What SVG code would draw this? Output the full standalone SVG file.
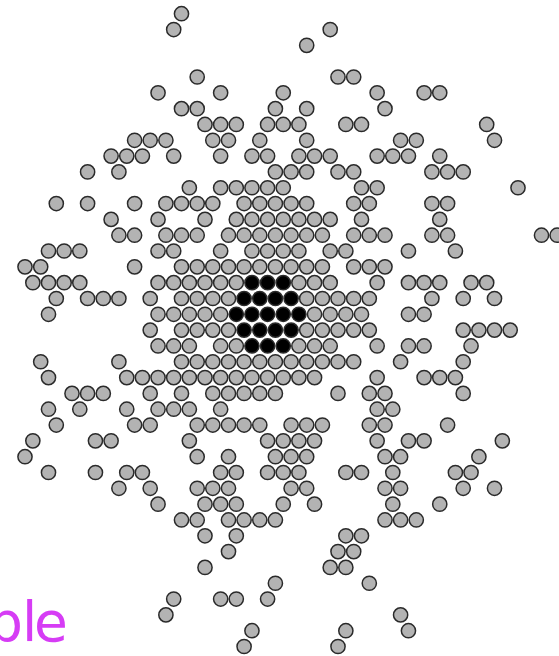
<svg xmlns="http://www.w3.org/2000/svg" width="559" height="656" viewBox="0 0 559 656">
<style>
circle{r:7.1px;fill:#b3b3b3;stroke:#2a2a2a;stroke-width:1.5}
circle.b{fill:#000}
text{font-family:"DejaVu Sans",sans-serif;font-size:55px;fill:#d63cf5}
</style>
<rect width="559" height="656" fill="#fff"/>
<g id="particles">
<g transform="translate(0,13.72)"><circle cx="181.5"/></g>
<g transform="translate(0,29.54)"><circle cx="173.7"/><circle cx="330.2"/></g>
<g transform="translate(0,45.36)"><circle cx="306.7"/></g>
<g transform="translate(0,77)"><circle cx="197.2"/><circle cx="338"/><circle cx="353.7"/></g>
<g transform="translate(0,92.82)"><circle cx="158.05"/><circle cx="220.65"/><circle cx="283.25"/><circle cx="377.15"/><circle cx="424.1"/><circle cx="439.75"/></g>
<g transform="translate(0,108.64)"><circle cx="181.5"/><circle cx="197.2"/><circle cx="275.4"/><circle cx="306.7"/><circle cx="385"/></g>
<g transform="translate(0,124.46)"><circle cx="205"/><circle cx="220.65"/><circle cx="236.3"/><circle cx="267.6"/><circle cx="283.25"/><circle cx="298.9"/><circle cx="345.85"/><circle cx="361.5"/><circle cx="486.7"/></g>
<g transform="translate(0,140.28)"><circle cx="134.6"/><circle cx="150.2"/><circle cx="165.9"/><circle cx="212.8"/><circle cx="228.5"/><circle cx="259.8"/><circle cx="306.7"/><circle cx="400.6"/><circle cx="416.3"/><circle cx="494.5"/></g>
<g transform="translate(0,156.1)"><circle cx="111.1"/><circle cx="126.75"/><circle cx="142.4"/><circle cx="173.7"/><circle cx="220.65"/><circle cx="251.95"/><circle cx="267.6"/><circle cx="298.9"/><circle cx="314.55"/><circle cx="330.2"/><circle cx="377.15"/><circle cx="392.8"/><circle cx="408.45"/><circle cx="439.75"/></g>
<g transform="translate(0,171.92)"><circle cx="87.6"/><circle cx="118.9"/><circle cx="275.4"/><circle cx="291.1"/><circle cx="306.7"/><circle cx="338"/><circle cx="353.7"/><circle cx="431.9"/><circle cx="447.6"/><circle cx="463.2"/></g>
<g transform="translate(0,187.74)"><circle cx="189.35"/><circle cx="220.65"/><circle cx="236.3"/><circle cx="251.95"/><circle cx="267.6"/><circle cx="283.25"/><circle cx="361.5"/><circle cx="377.15"/><circle cx="518"/></g>
<g transform="translate(0,203.56)"><circle cx="56.3"/><circle cx="87.6"/><circle cx="134.6"/><circle cx="165.9"/><circle cx="181.5"/><circle cx="197.2"/><circle cx="212.8"/><circle cx="244.1"/><circle cx="259.8"/><circle cx="275.4"/><circle cx="291.1"/><circle cx="306.7"/><circle cx="353.7"/><circle cx="369.3"/><circle cx="431.9"/><circle cx="447.6"/></g>
<g transform="translate(0,219.38)"><circle cx="111.1"/><circle cx="158.05"/><circle cx="205"/><circle cx="236.3"/><circle cx="251.95"/><circle cx="267.6"/><circle cx="283.25"/><circle cx="298.9"/><circle cx="314.55"/><circle cx="330.2"/><circle cx="361.5"/><circle cx="439.75"/></g>
<g transform="translate(0,235.2)"><circle cx="118.9"/><circle cx="134.6"/><circle cx="165.9"/><circle cx="181.5"/><circle cx="197.2"/><circle cx="228.5"/><circle cx="244.1"/><circle cx="259.8"/><circle cx="275.4"/><circle cx="291.1"/><circle cx="306.7"/><circle cx="322.4"/><circle cx="353.7"/><circle cx="369.3"/><circle cx="385"/><circle cx="431.9"/><circle cx="447.6"/><circle cx="541.5"/><circle cx="557.1"/></g>
<g transform="translate(0,251.02)"><circle cx="48.5"/><circle cx="64.15"/><circle cx="79.8"/><circle cx="158.05"/><circle cx="173.7"/><circle cx="220.65"/><circle cx="251.95"/><circle cx="267.6"/><circle cx="283.25"/><circle cx="298.9"/><circle cx="330.2"/><circle cx="345.85"/><circle cx="408.45"/><circle cx="455.4"/></g>
<g transform="translate(0,266.84)"><circle cx="25"/><circle cx="40.7"/><circle cx="134.6"/><circle cx="181.5"/><circle cx="197.2"/><circle cx="212.8"/><circle cx="228.5"/><circle cx="244.1"/><circle cx="259.8"/><circle cx="275.4"/><circle cx="291.1"/><circle cx="306.7"/><circle cx="322.4"/><circle cx="353.7"/><circle cx="369.3"/><circle cx="385"/></g>
<g transform="translate(0,282.66)"><circle cx="32.85"/><circle cx="48.5"/><circle cx="64.15"/><circle cx="79.8"/><circle cx="158.05"/><circle cx="173.7"/><circle cx="189.35"/><circle cx="205"/><circle cx="220.65"/><circle cx="236.3"/><circle class="b" cx="251.95"/><circle class="b" cx="267.6"/><circle class="b" cx="283.25"/><circle cx="298.9"/><circle cx="314.55"/><circle cx="330.2"/><circle cx="377.15"/><circle cx="408.45"/><circle cx="424.1"/><circle cx="439.75"/><circle cx="471.05"/><circle cx="486.7"/></g>
<g transform="translate(0,298.48)"><circle cx="56.3"/><circle cx="87.6"/><circle cx="103.3"/><circle cx="118.9"/><circle cx="150.2"/><circle cx="181.5"/><circle cx="197.2"/><circle cx="212.8"/><circle cx="228.5"/><circle class="b" cx="244.1"/><circle class="b" cx="259.8"/><circle class="b" cx="275.4"/><circle class="b" cx="291.1"/><circle cx="306.7"/><circle cx="322.4"/><circle cx="338"/><circle cx="353.7"/><circle cx="369.3"/><circle cx="431.9"/><circle cx="463.2"/><circle cx="494.5"/></g>
<g transform="translate(0,314.3)"><circle cx="48.5"/><circle cx="158.05"/><circle cx="173.7"/><circle cx="189.35"/><circle cx="205"/><circle cx="220.65"/><circle class="b" cx="236.3"/><circle class="b" cx="251.95"/><circle class="b" cx="267.6"/><circle class="b" cx="283.25"/><circle class="b" cx="298.9"/><circle cx="314.55"/><circle cx="330.2"/><circle cx="345.85"/><circle cx="361.5"/><circle cx="408.45"/><circle cx="424.1"/></g>
<g transform="translate(0,330.12)"><circle cx="150.2"/><circle cx="181.5"/><circle cx="197.2"/><circle cx="212.8"/><circle cx="228.5"/><circle class="b" cx="244.1"/><circle class="b" cx="259.8"/><circle class="b" cx="275.4"/><circle class="b" cx="291.1"/><circle cx="306.7"/><circle cx="322.4"/><circle cx="338"/><circle cx="353.7"/><circle cx="369.3"/><circle cx="463.2"/><circle cx="478.9"/><circle cx="494.5"/><circle cx="510.2"/></g>
<g transform="translate(0,345.94)"><circle cx="158.05"/><circle cx="173.7"/><circle cx="189.35"/><circle cx="220.65"/><circle cx="236.3"/><circle class="b" cx="251.95"/><circle class="b" cx="267.6"/><circle class="b" cx="283.25"/><circle cx="298.9"/><circle cx="314.55"/><circle cx="330.2"/><circle cx="377.15"/><circle cx="408.45"/><circle cx="424.1"/><circle cx="471.05"/></g>
<g transform="translate(0,361.76)"><circle cx="40.7"/><circle cx="118.9"/><circle cx="181.5"/><circle cx="197.2"/><circle cx="212.8"/><circle cx="228.5"/><circle cx="244.1"/><circle cx="259.8"/><circle cx="275.4"/><circle cx="291.1"/><circle cx="306.7"/><circle cx="322.4"/><circle cx="338"/><circle cx="353.7"/><circle cx="400.6"/><circle cx="463.2"/></g>
<g transform="translate(0,377.58)"><circle cx="48.5"/><circle cx="126.75"/><circle cx="142.4"/><circle cx="158.05"/><circle cx="173.7"/><circle cx="189.35"/><circle cx="205"/><circle cx="220.65"/><circle cx="236.3"/><circle cx="251.95"/><circle cx="267.6"/><circle cx="283.25"/><circle cx="298.9"/><circle cx="314.55"/><circle cx="377.15"/><circle cx="424.1"/><circle cx="439.75"/><circle cx="455.4"/></g>
<g transform="translate(0,393.4)"><circle cx="72"/><circle cx="87.6"/><circle cx="103.3"/><circle cx="150.2"/><circle cx="181.5"/><circle cx="212.8"/><circle cx="228.5"/><circle cx="244.1"/><circle cx="259.8"/><circle cx="275.4"/><circle cx="338"/><circle cx="369.3"/><circle cx="385"/><circle cx="463.2"/></g>
<g transform="translate(0,409.22)"><circle cx="48.5"/><circle cx="79.8"/><circle cx="126.75"/><circle cx="158.05"/><circle cx="173.7"/><circle cx="189.35"/><circle cx="220.65"/><circle cx="377.15"/><circle cx="392.8"/></g>
<g transform="translate(0,425.04)"><circle cx="56.3"/><circle cx="134.6"/><circle cx="150.2"/><circle cx="197.2"/><circle cx="212.8"/><circle cx="228.5"/><circle cx="244.1"/><circle cx="259.8"/><circle cx="291.1"/><circle cx="306.7"/><circle cx="322.4"/><circle cx="369.3"/><circle cx="385"/><circle cx="447.6"/></g>
<g transform="translate(0,440.86)"><circle cx="32.85"/><circle cx="95.45"/><circle cx="111.1"/><circle cx="189.35"/><circle cx="267.6"/><circle cx="283.25"/><circle cx="298.9"/><circle cx="314.55"/><circle cx="377.15"/><circle cx="408.45"/><circle cx="424.1"/><circle cx="502.35"/></g>
<g transform="translate(0,456.68)"><circle cx="25"/><circle cx="197.2"/><circle cx="228.5"/><circle cx="275.4"/><circle cx="291.1"/><circle cx="306.7"/><circle cx="385"/><circle cx="400.6"/><circle cx="478.9"/></g>
<g transform="translate(0,472.5)"><circle cx="48.5"/><circle cx="95.45"/><circle cx="126.75"/><circle cx="142.4"/><circle cx="220.65"/><circle cx="236.3"/><circle cx="267.6"/><circle cx="283.25"/><circle cx="298.9"/><circle cx="345.85"/><circle cx="361.5"/><circle cx="392.8"/><circle cx="455.4"/><circle cx="471.05"/></g>
<g transform="translate(0,488.32)"><circle cx="118.9"/><circle cx="150.2"/><circle cx="197.2"/><circle cx="212.8"/><circle cx="228.5"/><circle cx="291.1"/><circle cx="306.7"/><circle cx="385"/><circle cx="400.6"/><circle cx="463.2"/><circle cx="494.5"/></g>
<g transform="translate(0,504.14)"><circle cx="158.05"/><circle cx="205"/><circle cx="220.65"/><circle cx="236.3"/><circle cx="283.25"/><circle cx="314.55"/><circle cx="392.8"/><circle cx="439.75"/></g>
<g transform="translate(0,519.96)"><circle cx="181.5"/><circle cx="197.2"/><circle cx="228.5"/><circle cx="244.1"/><circle cx="259.8"/><circle cx="275.4"/><circle cx="385"/><circle cx="400.6"/><circle cx="416.3"/></g>
<g transform="translate(0,535.78)"><circle cx="205"/><circle cx="236.3"/><circle cx="345.85"/><circle cx="361.5"/></g>
<g transform="translate(0,551.6)"><circle cx="228.5"/><circle cx="338"/><circle cx="353.7"/></g>
<g transform="translate(0,567.42)"><circle cx="205"/><circle cx="330.2"/><circle cx="345.85"/></g>
<g transform="translate(0,583.24)"><circle cx="275.4"/><circle cx="369.3"/></g>
<g transform="translate(0,599.06)"><circle cx="173.7"/><circle cx="220.65"/><circle cx="236.3"/><circle cx="267.6"/></g>
<g transform="translate(0,614.88)"><circle cx="165.9"/><circle cx="400.6"/></g>
<g transform="translate(0,630.7)"><circle cx="251.95"/><circle cx="345.85"/><circle cx="408.45"/></g>
<g transform="translate(0,646.52)"><circle cx="244.1"/><circle cx="338"/></g>
</g>
<text x="-12 22 34" y="641">ble</text>
</svg>
